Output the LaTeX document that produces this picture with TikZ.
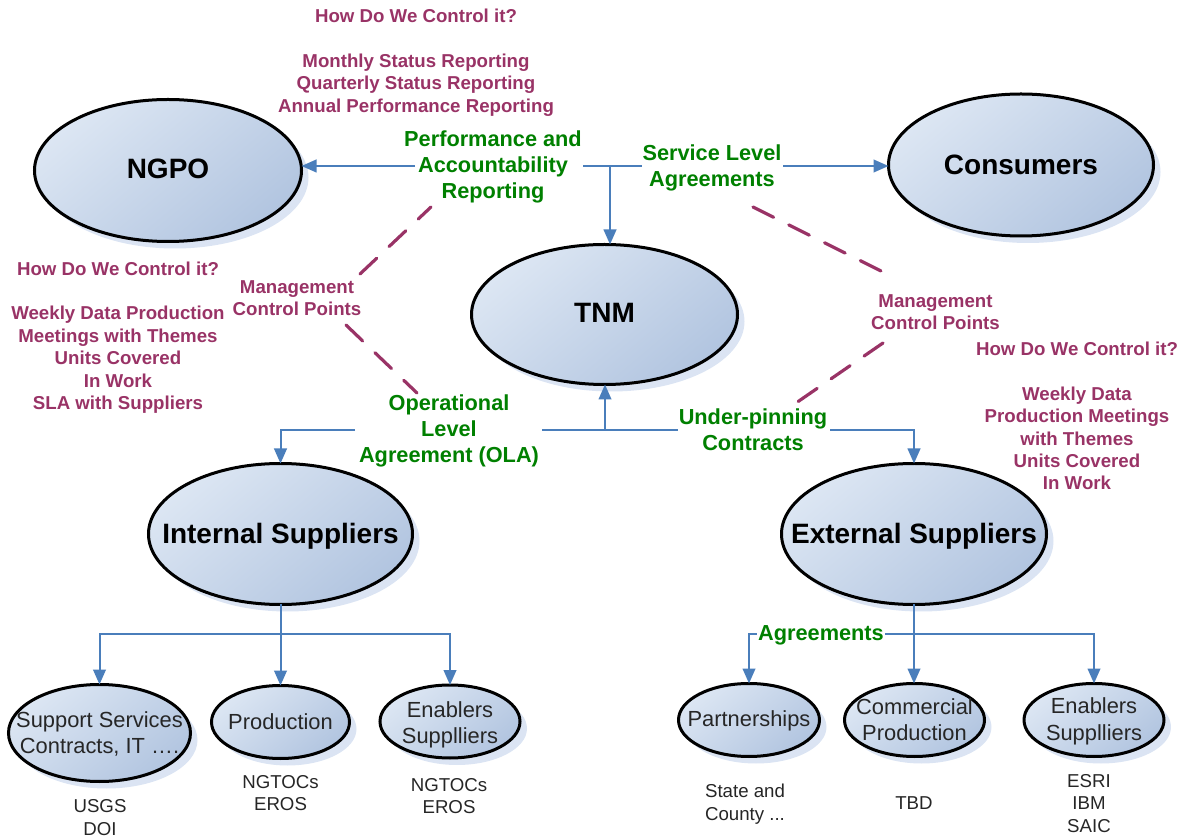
\documentclass[tikz,border=0pt]{standalone}
\usepackage{fontspec}
\setmainfont{Liberation Sans}
\usetikzlibrary{shapes.geometric,arrows.meta,shadows,calc}
\newdimen\px \px=.75pt
\definecolor{plumtxt}{RGB}{153,51,102}
\definecolor{greentxt}{RGB}{0,128,0}
\definecolor{conn}{RGB}{74,126,187}
\definecolor{shadowc}{RGB}{219,228,243}
\definecolor{ellA}{RGB}{220,230,243}
\definecolor{ellB}{RGB}{178,197,224}
\tikzset{
  x=.75pt,y=-.75pt,
  oval/.style={ellipse,draw=black,line width=2.25pt,inner sep=0pt,outer sep=0pt,
    top color=ellA,bottom color=ellB,shading angle=40,
    general shadow={shadow xshift=5.25pt,shadow yshift=-5.25pt,fill=shadowc}},
  bigt/.style={font=\fontsize{21}{25}\selectfont\bfseries,align=center,text=black,inner sep=0pt,yshift=-1.5pt},
  smallt/.style={font=\fontsize{16.4}{19.6}\selectfont,align=center,text=black!85,inner sep=0pt,yshift=-1pt},
  note/.style={font=\fontsize{14}{16.8}\selectfont,align=center,text=black!85,inner sep=0pt},
  plum/.style={font=\fontsize{14}{16.8}\selectfont\bfseries,align=center,text=plumtxt,inner sep=0pt},
  grn/.style={font=\fontsize{16.3}{19.5}\selectfont\bfseries,align=center,text=greentxt,inner sep=0pt},
  link/.style={draw=conn,line width=1.5pt},
  arrowlink/.style={link,-{Triangle[length=11.25pt,width=9.5pt]}},
  ctrl/.style={draw=plumtxt,line width=2.4pt,line cap=round,dash pattern=on 17.25pt off 12.75pt}
}
\begin{document}
\begin{tikzpicture}
\useasboundingbox (0,0) rectangle (1182,837);
% main ellipses
\node[oval,minimum width=267\px,minimum height=142\px,label={[bigt,yshift=3pt]center:NGPO}] (ngpo) at (168,170.5) {};
\node[oval,minimum width=266\px,minimum height=140\px,label={[bigt,yshift=3pt]center:TNM}] (tnm) at (604.5,314.5) {};
\node[oval,minimum width=265\px,minimum height=142\px,label={[bigt,yshift=1.5pt]center:Consumers}] (cons) at (1021,165) {};
\node[oval,minimum width=264\px,minimum height=141\px,label={[bigt]center:Internal Suppliers}] (int) at (280.5,534) {};
\node[oval,minimum width=265\px,minimum height=141\px,label={[bigt]center:External Suppliers}] (ext) at (914,534) {};
% small ellipses
\node[oval,minimum width=182\px,minimum height=97\px,label={[smallt]center:Support Services\\Contracts, IT ….}] (supp) at (99.5,733) {};
\node[oval,minimum width=138\px,minimum height=73\px,label={[smallt,yshift=1.5pt]center:Production}] (prod) at (280.5,722) {};
\node[oval,minimum width=140\px,minimum height=73\px,label={[smallt,yshift=-1.5pt]center:Enablers\\Supplliers}] (enabi) at (450,721.5) {};
\node[oval,minimum width=141\px,minimum height=73\px,label={[smallt]center:Partnerships}] (part) at (749,720) {};
\node[oval,minimum width=140\px,minimum height=73\px,label={[smallt,yshift=1.5pt]center:Commercial\\Production}] (comm) at (914.5,720) {};
\node[oval,minimum width=140\px,minimum height=73\px,label={[smallt]center:Enablers\\Supplliers}] (enabe) at (1094,720) {};
% labels
\node[grn] (perf) at (493,167) {Performance and\\Accountability\\Reporting};
\node[grn] (sla) at (712,167.5) {Service Level\\Agreements};
\node[grn] (ola) at (449,431) {Operational\\Level\\Agreement (OLA)};
\node[grn] (upc) at (753,430) {Under-pinning\\Contracts};
\node[plum] (ctrltop) at (416,62.5) {How Do We Control it?\\[16.8pt]Monthly Status Reporting\\Quarterly Status Reporting\\Annual Performance Reporting};
\node[plum] (ctrlleft) at (118,337.5) {How Do We Control it?\\[16.8pt]Weekly Data Production\\Meetings with Themes\\Units Covered\\In Work\\SLA with Suppliers};
\node[plum] (ctrlright) at (1077,416) {How Do We Control it?\\[16.8pt]Weekly Data\\Production Meetings\\with Themes\\Units Covered\\In Work};
\node[plum] (mgl) at (297,298) {Management\\Control Points};
\node[plum] (mgr) at (935.5,312) {Management\\Control Points};
\node[note] (nsupp) at (100,817.5) {USGS\\DOI};
\node[note] (nprod) at (280.5,793) {NGTOCs\\EROS};
\node[note] (nenabi) at (449,796) {NGTOCs\\EROS};
\node[note] (npart) at (745,804) {State and\\County ...};
\node[note] (ncomm) at (914,803) {TBD};
\node[note] (nenabe) at (1089,803.5) {ESRI\\IBM\\SAIC};
% top row connectors
\coordinate (pl) at (415,166);
\coordinate (pr) at (583,166);
\coordinate (sl) at (642,166);
\coordinate (sr) at (783,166);
\coordinate (topj) at (610,166);
\draw[arrowlink] (pl) -- (pl -| ngpo.east);
\draw[link] (pr) -- (sl);
\draw[arrowlink] (topj) -- (topj |- tnm.north);
\draw[arrowlink] (sr) -- (sr -| cons.west);
% middle row connectors
\coordinate (ol) at (355,430);
\coordinate (or) at (542,430);
\coordinate (ul) at (678,430);
\coordinate (ur) at (830,430);
\coordinate (midj) at (605,430);
\draw[arrowlink] (ol) -- (ol -| int.north) -- (int.north);
\draw[link] (or) -- (ul);
\draw[arrowlink] (midj) -- (midj |- tnm.south);
\draw[arrowlink] (ur) -- (ur -| ext.north) -- (ext.north);
% left tree
\coordinate (lbus) at (281,634);
\draw[arrowlink] (int.south) -- (int.south |- prod.north);
\draw[arrowlink] (lbus) -- (lbus -| supp.north) -- (supp.north);
\draw[arrowlink] (lbus) -- (lbus -| enabi.north) -- (enabi.north);
% right tree
\coordinate (rbus) at (914,634);
\draw[arrowlink] (ext.south) -- (ext.south |- comm.north);
\draw[arrowlink] (rbus) -- (rbus -| part.north) -- (part.north);
\draw[arrowlink] (rbus) -- (rbus -| enabe.north) -- (enabe.north);
\node[grn,fill=white,inner xsep=0.75pt,inner ysep=0pt] (agr) at (821,635.5) {Agreements};
% management dashes
\coordinate (d1a) at (431,207); \coordinate (d1b) at (360,274);
\coordinate (d2a) at (346,325); \coordinate (d2b) at (417,393);
\coordinate (d3a) at (753,207); \coordinate (d3b) at (885,273);
\coordinate (d4a) at (883,343); \coordinate (d4b) at (796,403);
\draw[ctrl] (d1b) -- (d1a);
\draw[ctrl] (d2a) -- (d2b);
\draw[ctrl] (d3a) -- (d3b);
\draw[ctrl] (d4a) -- (d4b);
\end{tikzpicture}
\end{document}
